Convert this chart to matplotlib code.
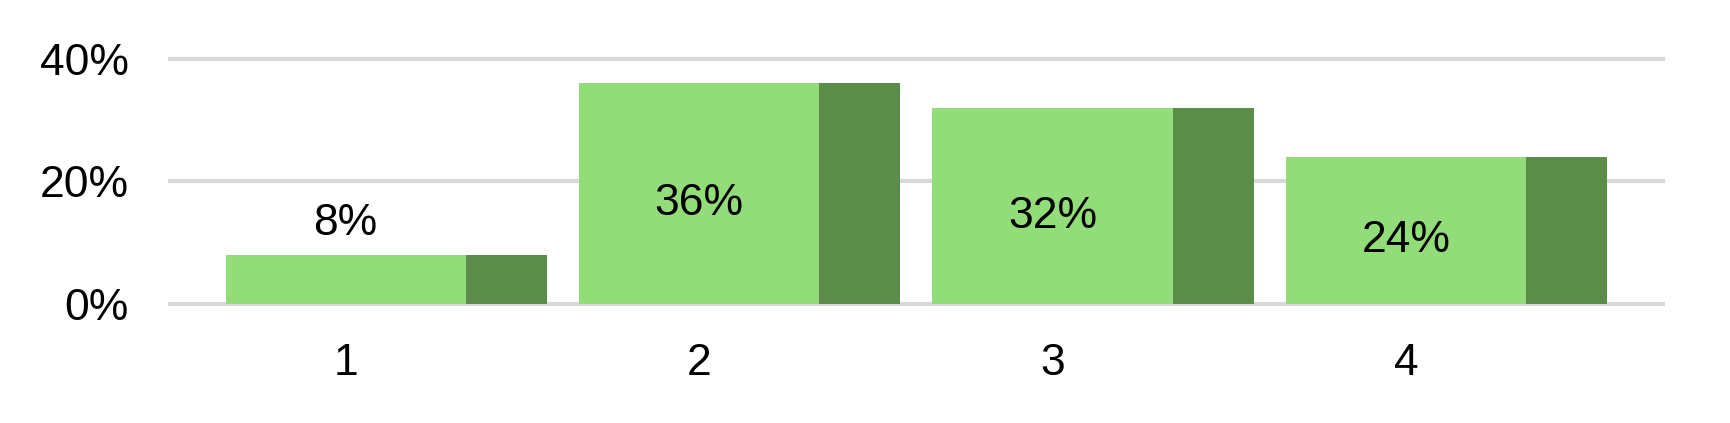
import numpy as np
import matplotlib.pyplot as plt
from matplotlib.ticker import FuncFormatter
plt.rcParams["font.family"] = ["Liberation Sans", "DejaVu Sans"]

categories = ["1", "2", "3", "4"]
values = [8, 36, 32, 24]
yticks = [0, 20, 40]

light = "#92dc79"
dark = "#5b8c4a"

fig = plt.figure(figsize=(17.31, 4.23), dpi=100)
ax = fig.add_axes([0.097, 0.275, 0.865, 0.601])

x = np.arange(1, len(categories) + 1)
w_light = 0.68
w_dark = 0.23
ax.bar(x, values, width=w_light, color=light, zorder=3)
ax.bar(x + w_light / 2, values, width=w_dark, align="edge", color=dark, zorder=3)

for xi, v in zip(x, values):
    if v < 15:
        ax.text(xi, v + 5, "{}%".format(v), ha="center", va="center", fontsize=32, zorder=4)
    else:
        ax.text(xi, v / 2 - 1.7, "{}%".format(v), ha="center", va="center", fontsize=32, zorder=4)

ax.set_xlim(0.497, 4.734)
ax.set_ylim(-0.5, 41)
ax.set_yticks(yticks)
ax.yaxis.set_major_formatter(FuncFormatter(lambda v, p: "{:.0f}%".format(v)))
ax.set_xticks(x)
ax.set_xticklabels(categories)
ax.tick_params(axis="y", length=0, pad=28, labelsize=32)
ax.tick_params(axis="x", length=0, pad=26, labelsize=32)
ax.yaxis.grid(True, color="#d9d9d9", linewidth=3, solid_capstyle="round", zorder=0)
for s in ax.spines.values():
    s.set_visible(False)

fig.savefig("out.png", dpi=100)
